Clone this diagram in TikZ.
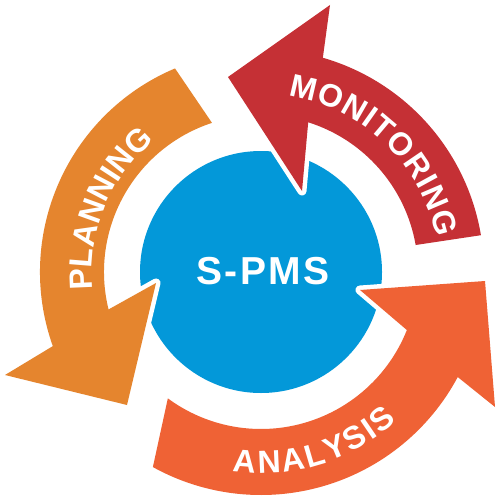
\documentclass[tikz,border=0pt]{standalone}
\usepackage{fontspec}
\newfontfamily\hfont{Liberation Sans}
\newfontfamily\spmsfont{Liberation Sans}[LetterSpace=6]
\usetikzlibrary{calc,decorations.text}
\definecolor{cblue}{HTML}{0398D9}
\definecolor{cplan}{HTML}{E5852E}
\definecolor{cmon}{HTML}{C53035}
\definecolor{cana}{HTML}{EF6235}
\newcommand\arcfont{\hfont\bfseries\fontsize{32}{32}\selectfont}
\begin{document}
\begin{tikzpicture}[x=1pt,y=-1pt,
  arrowbody/.style={fill=#1, preaction={draw=white, line width=9pt, line join=round}},
  arctext/.style={decorate, decoration={text along path, text color=white, text align={fit to path}, text={#1}}}]
\useasboundingbox (0,0) rectangle (500,500);
\coordinate (C) at (261,272);
\node[circle, fill=cblue, minimum size=242pt, inner sep=0pt] (hub) at (C) {};
% planning
\path[arrowbody=cplan] ($(C)+(247.1:221)$) arc[start angle=247.1, end angle=160.4, radius=221]
  -- (5,375) -- (127,405) -- (156,283) -- ($(C)+(166.2:157)$)
  arc[start angle=166.2, end angle=251.8, radius=157] -- cycle;
% monitoring
\path[arrowbody=cmon] ($(C)+(-9.5:223)$) arc[start angle=-9.5, end angle=-73.9, radius=223]
  -- (330,5) -- (228,77) -- (302,191) -- ($(C)+(-72.5:157)$)
  arc[start angle=-72.5, end angle=-9.9, radius=157] -- cycle;
% analysis
\path[arrowbody=cana] ($(C)+(119:223)$) arc[start angle=119, end angle=28.1, radius=223]
  -- (495,407) -- (485,281) -- (360,290) -- ($(C)+(21.7:157)$)
  arc[start angle=21.7, end angle=126.4, radius=157] -- cycle;
% texts
\path[arctext={|\arcfont|PLANNING}] ($(C)+(174:169)$) arc[start angle=174, end angle=231, radius=169];
\path[arctext={|\arcfont|MONITORING}] ($(C)+(-81.2:178.5)$) arc[start angle=-81.2, end angle=-11.1, radius=178.5];
\path[arctext={|\arcfont|ANALYSIS}] ($(C)+(98:201.5)$) arc[start angle=98, end angle=47.7, radius=201.5];
\node[text=white, font=\spmsfont\bfseries\fontsize{39}{39}\selectfont, inner sep=0pt] (label) at (263,271.5) {S-PMS};
\end{tikzpicture}
\end{document}
